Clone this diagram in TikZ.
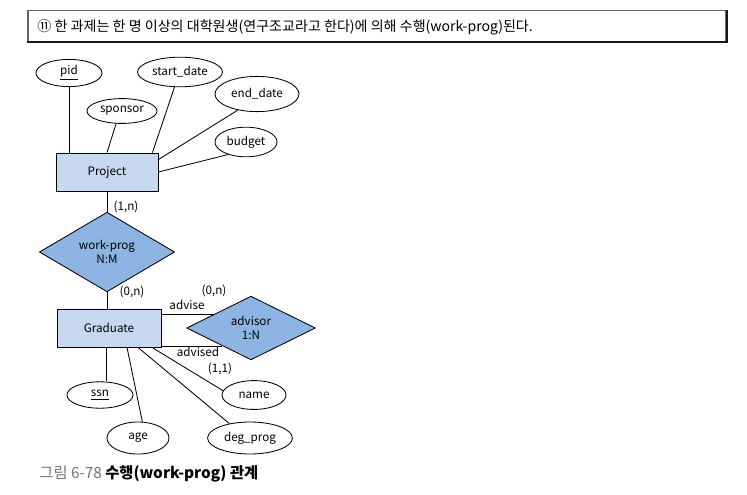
\documentclass[tikz,border=0pt]{standalone}
\usepackage{fontspec}
\setmainfont{Noto Sans CJK KR}
\usetikzlibrary{shapes.geometric,calc}

\definecolor{entfill}{HTML}{C6D9F1}
\definecolor{relfill}{HTML}{8DB4E2}
\newcommand{\ul}[1]{\underline{#1}}

\begin{document}
\begin{tikzpicture}[x=0.025cm, y=-0.025cm, line width=0.6pt,
    every node/.style={font=\fontsize{8.3}{10}\selectfont, inner sep=0pt},
    entity/.style={draw, fill=entfill, minimum width=2.55cm, minimum height=0.95cm},
    rel/.style={diamond, draw, fill=relfill, align=center},
    attr/.style={ellipse, draw, fill=white}]
  \useasboundingbox (0,0) rectangle (747,494);
  \node[draw=black!60, line width=0.9pt, minimum width=17.45cm, minimum height=0.78cm] (hdr) at (377,26) {};
  \draw[black!90, line width=1.2pt] (hdr.north east) -- (hdr.south east) -- (hdr.south west);
  \node[anchor=west, font=\fontsize{10}{12}\selectfont] (htxt) at (37,27) {⑪ 한 과제는 한 명 이상의 대학원생(연구조교라고 한다)에 의해 수행(work-prog)된다.};
  \node[entity] (prj) at (107,172) {Project};
  \node[attr, minimum width=1.65cm, minimum height=0.68cm] (pid) at (69,73) {\ul{pid}};
  \node[attr, minimum width=1.75cm, minimum height=0.62cm] (spon) at (122,111) {sponsor};
  \node[attr, minimum width=2.12cm, minimum height=0.74cm] (sdate) at (180,72) {start\_date};
  \node[attr, minimum width=2.1cm, minimum height=0.88cm] (edate) at (257,94) {end\_date};
  \node[attr, minimum width=1.55cm, minimum height=0.74cm] (bud) at (246,142) {budget};
  \node[rel, minimum width=3.38cm, minimum height=1.24cm] (wp) at (107,252) {work-prog\\N:M};
  \node[entity, minimum width=2.6cm] (grad) at (109,328) {Graduate};
  \node[rel, minimum width=3.22cm, minimum height=1.2cm] (adv) at (251,328) {advisor\\1:N};
  \node[attr, minimum width=1.65cm, minimum height=0.66cm] (ssn) at (100,395) {\ul{ssn}};
  \node[attr, minimum width=1.55cm, minimum height=0.8cm] (age) at (138,438) {age};
  \node[attr, minimum width=1.6cm, minimum height=0.72cm] (name) at (254,395) {name};
  \node[attr, minimum width=2.12cm, minimum height=0.8cm] (deg) at (250,438) {deg\_prog};

  \draw (pid.south) -- (pid.south |- prj.north);
  \draw (spon.245) -- (prj.north);
  \draw (sdate.250) -- ($(prj.north east)+(-6,0)$);
  \draw (edate.220) -- ($(prj.north east)+(0,7)$);
  \draw (bud.215) -- (prj.east);
  \draw (prj.south) -- (wp.north);
  \draw (wp.south) -- (wp.south |- grad.north);

  \coordinate (a1) at ($(adv.west)!0.42!(adv.north)$);
  \coordinate (a2) at ($(adv.west)!0.56!(adv.south)$);
  \draw (a1 -| grad.east) -- (a1);
  \draw (a2 -| grad.east) -- (a2);

  \coordinate (g1) at ($(grad.south)+(-3,0)$);
  \draw (g1) -- (g1 |- ssn.north);
  \draw ($(grad.south)+(18,0)$) -- (age.75);
  \draw ($(grad.south)+(29,0)$) -- (deg.145);
  \draw ($(grad.south)+(43,0)$) -- (name.172);

  \node (c1) at (126,207) {(1,n)};
  \node (c2) at (132,292) {(0,n)};
  \node (c3) at (214,291) {(0,n)};
  \node (c4) at (220,369) {(1,1)};
  \node (r1) at (187,305) {advise};
  \node (r2) at (198,352) {advised};

  \node[anchor=west, font=\fontsize{10.9}{13}\selectfont] (cap) at (39,474) {\textcolor{black!55}{그림 6-78} \textbf{수행(work-prog) 관계}};
\end{tikzpicture}
\end{document}
